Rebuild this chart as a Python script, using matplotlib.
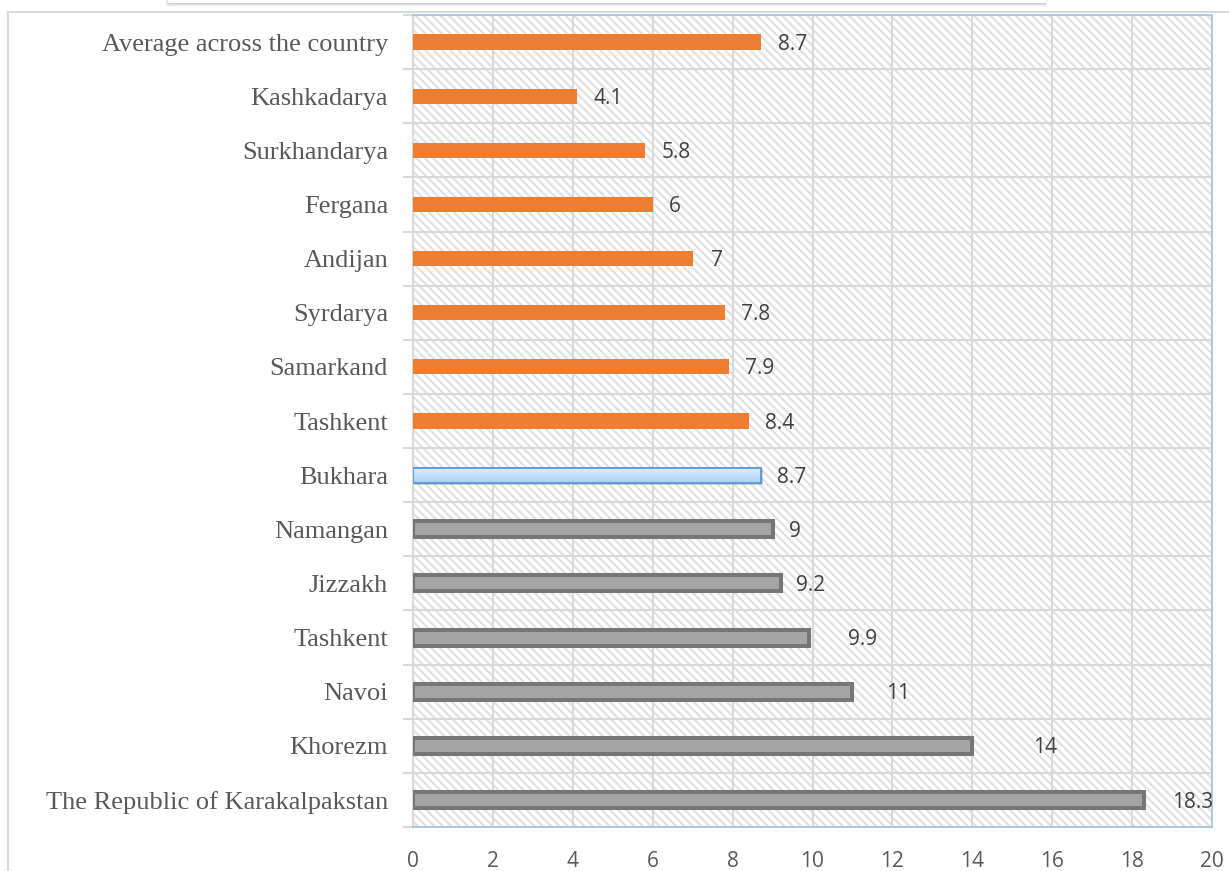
import matplotlib.pyplot as plt
import numpy as np
from matplotlib.patches import Rectangle

# Regions listed bottom to top, as they appear on the chart
regions = ["The Republic of Karakalpakstan", "Khorezm", "Navoi", "Tashkent", "Jizzakh",
           "Namangan", "Bukhara", "Tashkent", "Samarkand", "Syrdarya", "Andijan",
           "Fergana", "Surkhandarya", "Kashkadarya", "Average across the country"]
values = [18.3, 14, 11, 9.9, 9.2, 9, 8.7, 8.4, 7.9, 7.8, 7, 6, 5.8, 4.1, 8.7]
# bar group: "high" = above the average, "ref" = Bukhara, "low" = below the average
groups = ["high"] * 6 + ["ref"] + ["low"] * 8
# horizontal gap (px) between bar end and its value label
label_gap_px = [28, 61, 34, 39, 15, 16, 16, 16, 16, 16, 18, 16, 17, 17, 17]

x_ticks = list(range(0, 21, 2))

ORANGE = "#ed7d31"
GRAY_EDGE = "#767676"
GRAY_FACE = "#a5a5a5"
BLUE_EDGE = "#5b9bd5"
GRID = "#d9d9d9"
TEXT = "#595959"
BAR_H = 0.28

fig = plt.figure(figsize=(12.29, 8.71), dpi=100)

# outer chart frame and the shadow of the box above it
fig.add_artist(plt.Line2D([8 / 1229, 1], [1 - 12.5 / 871] * 2, transform=fig.transFigure, color="#d9d9d9", lw=1.5))
fig.add_artist(plt.Line2D([8 / 1229] * 2, [0, 1 - 12.5 / 871], transform=fig.transFigure, color="#d9d9d9", lw=1.5))
for k, a in enumerate([0.05, 0.08, 0.12, 0.16]):
    fig.add_artist(Rectangle((165 / 1229 + k * 0.001, 1 - (7 - k) / 871), (883 - 2 * k) / 1229, (7 - k) / 871,
                             transform=fig.transFigure, facecolor="#808080", alpha=a, lw=0))
fig.add_artist(Rectangle((168 / 1229, 1 - 3 / 871), 878 / 1229, 3 / 871, transform=fig.transFigure,
                         facecolor="white", lw=0))

ax = fig.add_axes([413 / 1229, 1 - 827 / 871, 799 / 1229, 812 / 871])
ypos = np.arange(len(regions))

# hatched background of the plot area
plt.rcParams["hatch.linewidth"] = 1.5
ax.add_patch(Rectangle((0, 0), 1, 1, transform=ax.transAxes, facecolor="white",
                       edgecolor="#e0e0e0", hatch="\\\\\\\\", lw=0, zorder=0))

for y, v, g in zip(ypos, values, groups):
    if g == "low":
        ax.barh(y, v, height=BAR_H, color=ORANGE, zorder=3)
    elif g == "high":
        ax.barh(y, v, height=0.295, color=GRAY_FACE, edgecolor=GRAY_EDGE, linewidth=2.9, zorder=3)
    else:
        # soft shadow, then a light blue gradient bar
        ax.barh(y - 0.035, v + 0.05, height=BAR_H, left=0.02, color="#9a9a9a", alpha=0.45, zorder=2.5)
        bar = ax.barh(y, v, height=BAR_H, color="#c5e0fa", edgecolor=BLUE_EDGE, linewidth=1.3, zorder=3)[0]
        grad = np.linspace(0, 1, 50).reshape(-1, 1)
        img = ax.imshow(grad, extent=(0, v, y - BAR_H / 2, y + BAR_H / 2), origin="lower",
                        cmap=plt.matplotlib.colors.LinearSegmentedColormap.from_list("b", ["#a8d0f6", "#e0effd"]),
                        aspect="auto", zorder=3.1)
        img.set_clip_path(bar)
        ax.barh(y, v, height=BAR_H, color="none", edgecolor=BLUE_EDGE, linewidth=1.3, zorder=3.2)

for y, v, gap in zip(ypos, values, label_gap_px):
    ax.annotate(f"{v:g}", (v, y), xytext=(gap * 0.72, -1.5), textcoords="offset points",
                ha="left", va="center", fontsize=15, color="#404040", family="Open Sans", zorder=4)

ax.set_xlim(0, 20)
ax.set_ylim(-0.5, len(regions) - 0.5)
ax.set_xticks(x_ticks)
ax.set_yticks(ypos)
ax.set_yticklabels(regions, family="Liberation Serif", fontsize=19, color=TEXT)
ax.set_yticks(np.arange(-0.5, len(regions), 1), minor=True)
ax.tick_params(axis="y", which="major", length=0, pad=18)
ax.tick_params(axis="y", which="minor", length=7, width=1.5, color=GRID)
ax.tick_params(axis="x", length=0, pad=17, labelsize=15, labelcolor=TEXT)
for t in ax.get_xticklabels():
    t.set_family("Open Sans")

ax.grid(axis="x", color=GRID, lw=1.5, zorder=1)
ax.grid(axis="y", which="minor", color=GRID, lw=1.5, zorder=1)
ax.set_axisbelow(True)

for side in ["top", "right", "bottom"]:
    ax.spines[side].set_color("#a9c4e2")
    ax.spines[side].set_linewidth(1.3)
ax.spines["left"].set_color(GRID)
ax.spines["left"].set_linewidth(1.5)

fig.savefig("out.png", dpi=100)
